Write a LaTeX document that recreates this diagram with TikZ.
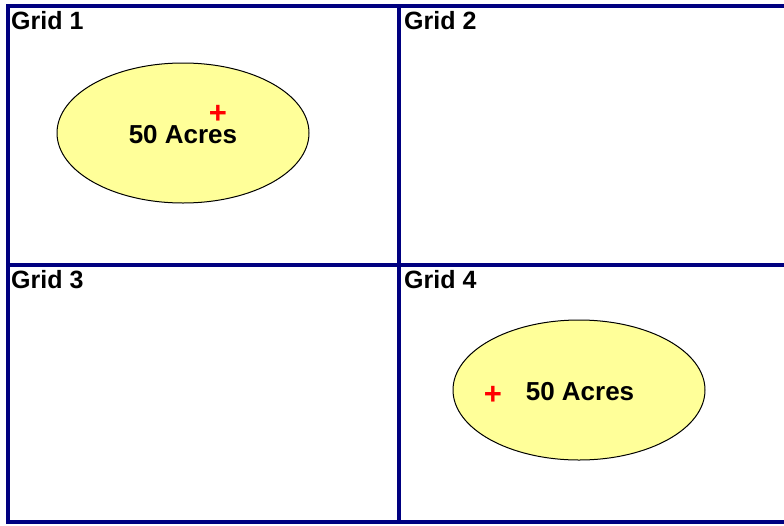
\documentclass[tikz,border=0pt]{standalone}
\usepackage{fontspec}
\setmainfont{Liberation Sans}
\usetikzlibrary{shapes.geometric}
\definecolor{gridblue}{RGB}{0,0,128}
\definecolor{plotyellow}{RGB}{255,255,153}
\tikzset{
  gridline/.style={gridblue,line width=4pt},
  gridlabel/.style={anchor=north west,inner sep=0pt,font=\fontsize{25}{27}\selectfont\bfseries},
  plot/.style={ellipse,draw=black,line width=1pt,fill=plotyellow,minimum width=252pt,minimum height=140pt},
  plotlabel/.style={inner sep=0pt,font=\fontsize{26}{28}\selectfont\bfseries},
  marker/.style={red,font=\fontsize{31}{31}\selectfont\bfseries,inner sep=0pt}
}
\begin{document}
\begin{tikzpicture}[x=1pt,y=-1pt]
\useasboundingbox (0,0) rectangle (784,525);
%grid
\draw[gridline](6,6)--(784,6);
\draw[gridline](8,4)--(8,524);
\draw[gridline](399,4)--(399,524);
\draw[gridline](6,265)--(784,265);
\draw[gridline](6,522)--(784,522);
%labels
\node[gridlabel] (g1) at (11,11) {Grid 1};
\node[gridlabel] (g2) at (404,11) {Grid 2};
\node[gridlabel] (g3) at (11,270) {Grid 3};
\node[gridlabel] (g4) at (404,270) {Grid 4};
%plots
\node[plot] (p1) at (183,133) {};
\node[plot] (p4) at (579,390) {};
\node[plotlabel] (t1) at (183,135) {50 Acres};
\node[plotlabel] (t4) at (580,392) {50 Acres};
\node[marker] (m1) at (218,114) {+};
\node[marker] (m4) at (493,395) {+};
\end{tikzpicture}
\end{document}
